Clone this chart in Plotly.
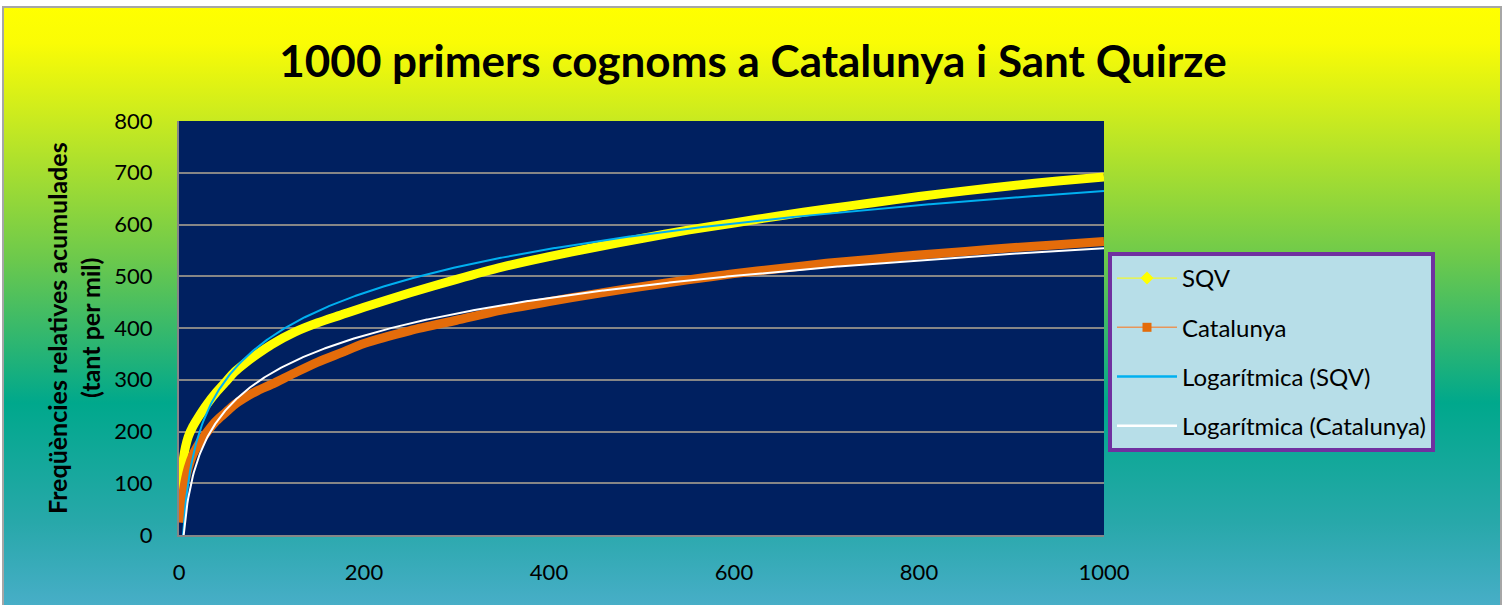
import base64
import numpy as np
import plotly.graph_objects as go

# ---------------- data ----------------
rank = [1, 2, 3, 5, 7, 10, 15, 20, 30, 40, 50, 60, 70, 85, 100, 125, 150, 175, 200,
        250, 300, 350, 400, 450, 500, 550, 600, 650, 700, 750, 800, 850, 900, 950, 1000]
sqv = [40, 75, 110, 150, 170, 190, 210, 225, 252, 275, 295, 315, 330, 350, 368, 392, 410, 425, 440,
       468, 494, 518, 538, 556, 573, 589, 603, 617, 630, 642, 654, 665, 675, 684, 692]
catalunya = [24, 45, 62, 88, 108, 130, 155, 172, 198, 220, 236, 252, 264, 279, 291, 313, 334, 352, 370,
             395, 415, 435, 451, 466, 480, 493, 505, 515, 525, 533, 541, 548, 555, 561, 567]

title_text = "1000 primers cognoms a Catalunya i Sant Quirze"
ytitle_lines = ["Freqüències relatives acumulades", "(tant per mil)"]
names = ["SQV", "Catalunya", "Logarítmica (SQV)", "Logarítmica (Catalunya)"]
x_ticks = [0, 200, 400, 600, 800, 1000]
y_ticks = [0, 100, 200, 300, 400, 500, 600, 700, 800]

# ---------------- logarithmic trendlines (least squares on ln x, rank-weighted) ----------------
def log_fit(xs, ys):
    xs = np.asarray(xs, float)
    ys = np.asarray(ys, float)
    w = np.empty_like(xs)
    w[1:-1] = (xs[2:] - xs[:-2]) / 2
    w[0] = (xs[1] - xs[0]) / 2 + 0.5
    w[-1] = (xs[-1] - xs[-2]) / 2 + 0.5
    a, b = np.polyfit(np.log(xs), ys, 1, w=np.sqrt(w))
    return a, b

xt = np.arange(1, 1001)
a1, b1 = log_fit(rank, sqv)
a2, b2 = log_fit(rank, catalunya)
trend_sqv = a1 * np.log(xt) + b1
trend_cat = a2 * np.log(xt) + b2

# ---------------- geometry ----------------
W, H = 1506, 605
ML, MR, MT, MB = 179, 402, 121, 70
PW, PH = W - ML - MR, H - MT - MB

def pxx(px):
    return (px - ML) / PW

def pxy(py):
    return (H - MB - py) / PH

FONT = "Lato, 'Open Sans', sans-serif"
YELLOW = "#FFFF00"
ORANGE = "#E46C0A"
BLUE = "#00B0F0"

fig = go.Figure()

# data series
fig.add_trace(go.Scatter(x=rank, y=sqv, mode="lines", line=dict(color=YELLOW, width=9, shape="spline", smoothing=0.8),
                         showlegend=False, hoverinfo="skip"))
fig.add_trace(go.Scatter(x=rank, y=catalunya, mode="lines", line=dict(color=ORANGE, width=9, shape="spline", smoothing=0.8),
                         showlegend=False, hoverinfo="skip"))
fig.add_trace(go.Scatter(x=xt, y=trend_sqv, mode="lines", line=dict(color=BLUE, width=2),
                         showlegend=False, hoverinfo="skip"))
fig.add_trace(go.Scatter(x=xt, y=trend_cat, mode="lines", line=dict(color="#FFFFFF", width=2),
                         showlegend=False, hoverinfo="skip"))

# legend entries
fig.add_trace(go.Scatter(x=[None], y=[None], mode="lines+markers", name=names[0], legendgroup="g1",
                         line=dict(color=YELLOW, width=1), marker=dict(symbol="diamond", size=10, color=YELLOW)))
fig.add_trace(go.Scatter(x=[None], y=[None], mode="lines+markers", name=names[1], legendgroup="g2",
                         line=dict(color="#E8955A", width=1.5), marker=dict(symbol="square", size=9, color=ORANGE)))
fig.add_trace(go.Scatter(x=[None], y=[None], mode="lines", name=names[2], legendgroup="g3",
                         line=dict(color=BLUE, width=2.5)))
fig.add_trace(go.Scatter(x=[None], y=[None], mode="lines", name=names[3], legendgroup="g4",
                         line=dict(color="#FFFFFF", width=2.5)))

# gradient background image
svg = ('<svg xmlns="http://www.w3.org/2000/svg" width="1500" height="600" viewBox="0 0 1500 600" preserveAspectRatio="none">'
       '<defs><linearGradient id="g" x1="0" y1="0" x2="0" y2="1">'
       '<stop offset="0" stop-color="#FFFF00"/>'
       '<stop offset="0.06" stop-color="#FAFC05"/>'
       '<stop offset="0.19" stop-color="#C8EA20"/>'
       '<stop offset="0.42" stop-color="#6CC94C"/>'
       '<stop offset="0.66" stop-color="#00A88C"/>'
       '<stop offset="0.86" stop-color="#28A8AA"/>'
       '<stop offset="1" stop-color="#48AEC8"/>'
       '</linearGradient></defs><rect x="0" y="0" width="1500" height="600" fill="url(#g)"/></svg>')
src = "data:image/svg+xml;base64," + base64.b64encode(svg.encode()).decode()
fig.add_layout_image(dict(source=src, xref="paper", yref="paper", x=pxx(3), y=pxy(7),
                          sizex=(1501 - 3) / PW, sizey=(H + 2 - 7) / PH, sizing="stretch",
                          xanchor="left", yanchor="top", layer="below"))

# plot area background + outer border
fig.add_shape(type="rect", xref="paper", yref="paper", x0=0, x1=1, y0=0, y1=1,
              fillcolor="#002060", line=dict(width=0), layer="below")
fig.add_shape(type="rect", xref="paper", yref="paper", x0=pxx(3), x1=pxx(1501), y0=pxy(H + 5), y1=pxy(7),
              fillcolor="rgba(0,0,0,0)", line=dict(color="#A6A6A6", width=2), layer="below")

# y axis title (two lines)
for txt, px in zip(ytitle_lines, [57, 90]):
    fig.add_annotation(text="<b>" + txt + "</b>", xref="paper", yref="paper", x=pxx(px), y=0.5,
                       xanchor="center", yanchor="middle", textangle=-90, showarrow=False,
                       font=dict(family=FONT, size=25, color="#000000"))

fig.update_layout(
    width=W, height=H,
    margin=dict(l=ML, r=MR, t=MT, b=MB, pad=0),
    paper_bgcolor="#FFFFFF",
    plot_bgcolor="rgba(0,0,0,0)",
    title=dict(text="<b>" + title_text + "</b>", x=0.5, xanchor="center", xref="container",
               y=1 - 62 / H, yanchor="middle", yref="container",
               font=dict(family=FONT, size=44, color="#000000")),
    font=dict(family=FONT, size=22, color="#000000"),
    xaxis=dict(range=[0, 1000], tickvals=x_ticks, showgrid=False, zeroline=False,
               showline=True, linecolor="#868686", linewidth=2, ticks="", ticklabelstandoff=17,
               tickfont=dict(family=FONT, size=22, color="#000000")),
    yaxis=dict(range=[0, 800], tickvals=y_ticks, showgrid=True, gridcolor="#868686", gridwidth=2,
               zeroline=False, showline=True, linecolor="#868686", linewidth=2, ticks="",
               ticklabelstandoff=20, tickfont=dict(family=FONT, size=22, color="#000000")),
    legend=dict(x=pxx(1108), y=pxy(252), xanchor="left", yanchor="top",
                bgcolor="#B7DEE8", bordercolor="#7030A0", borderwidth=4,
                font=dict(family=FONT, size=24, color="#000000"),
                tracegroupgap=15, itemwidth=60, entrywidth=277, entrywidthmode="pixels"),
)

fig.write_html("out.html", config={"displayModeBar": False},
               post_script="document.body.style.margin='0';")
